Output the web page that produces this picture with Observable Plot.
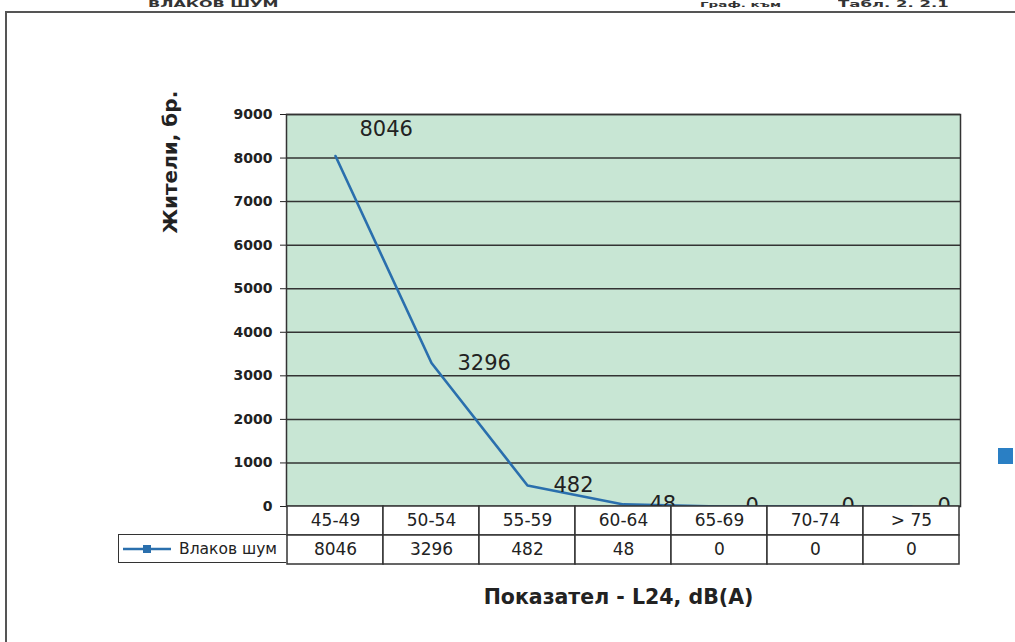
<!DOCTYPE html>
<html>
<head>
<meta charset="utf-8">
<script src="https://cdn.jsdelivr.net/npm/d3@7"></script>
<script src="https://cdn.jsdelivr.net/npm/@observablehq/plot@0.6"></script>
<style>
  html, body { margin: 0; padding: 0; background: #fff; }
  body { width: 1015px; height: 642px; position: relative; overflow: hidden; font-family: "DejaVu Sans", sans-serif; color: #222; }
  .abs { position: absolute; }
  #main { left: 0; top: 0; }
  #table { left: 0; top: 505px; }
  .hdr { font-weight: bold; font-size: 16px; line-height: 16px; top: 0px; color: #333; white-space: nowrap; transform: scaleY(0.55); transform-origin: top left; }
  #hline { left: 5px; top: 11px; width: 1010px; height: 2px; background: #555; }
  #vline { left: 5px; top: 12px; width: 2px; height: 630px; background: #555; }
  #legend { left: 118px; top: 534px; width: 168px; height: 29px; box-sizing: border-box; border: 1.5px solid #333; border-right: none; background: #fff; display: flex; align-items: center; font-size: 15.5px; white-space: nowrap; }
  #bluesq { left: 998px; top: 448px; width: 15px; height: 16px; background: #2a7fc4; }
</style>
</head>
<body>
<div id="main" class="abs"></div>
<div id="table" class="abs"></div>
<div id="hline" class="abs"></div>
<div id="vline" class="abs"></div>
<div class="abs hdr" style="left:148px;">ВЛАКОВ ШУМ</div>
<div class="abs hdr" style="left:700px;font-size:13.5px;">Граф. към</div>
<div class="abs hdr" style="left:838px;font-size:16.5px;">Табл. 2. 2.1</div>
<div id="legend" class="abs"></div>
<div id="bluesq" class="abs"></div>
<script>
// ---- data ----
const categories = ["45-49", "50-54", "55-59", "60-64", "65-69", "70-74", "> 75"];
const residents = [8046, 3296, 482, 48, 0, 0, 0];
const yTicks = [0, 1000, 2000, 3000, 4000, 5000, 6000, 7000, 8000, 9000];
const seriesName = "Влаков шум";
const yTitle = "Жители, бр.";
const xTitle = "Показател - L24, dB(A)";

const data = categories.map((c, i) => ({cat: c, val: residents[i]}));
const lineColor = "#2a6fad";
const gridColor = "#333";
const font = "DejaVu Sans";

const main = Plot.plot({
  width: 1015,
  height: 642,
  marginLeft: 286,
  marginRight: 55,
  marginTop: 114,
  marginBottom: 136,
  style: {fontFamily: font, fontSize: "14px", fontWeight: "bold", color: "#222", background: "transparent"},
  x: {type: "band", domain: categories, padding: 0, axis: null},
  y: {domain: [0, 9000], ticks: yTicks, tickSize: 6, tickPadding: 8, label: null, tickFormat: d => String(d)},
  marks: [
    Plot.frame({fill: "#c8e6d4", stroke: null}),
    Plot.ruleY(yTicks, {stroke: gridColor, strokeWidth: 1.5}),
    Plot.frame({stroke: gridColor, strokeWidth: 1.5}),
    Plot.line(data, {x: "cat", y: "val", stroke: lineColor, strokeWidth: 2.6}),
    Plot.text(data.slice(0, 1), {x: "cat", y: "val", text: d => String(d.val), textAnchor: "start", dx: 24, dy: -27, fontSize: 21, fontWeight: "normal", fill: "#222"}),
    Plot.text(data.slice(1), {x: "cat", y: "val", text: d => String(d.val), textAnchor: "start", dx: 26, dy: 0, fontSize: 21, fontWeight: "normal", fill: "#222"}),
    Plot.text([yTitle], {frameAnchor: "top-left", text: d => d, rotate: -90, textAnchor: "start", dx: -124, dy: 119, fontSize: 20, fontWeight: "bold", fill: "#222"}),
    Plot.text([xTitle], {frameAnchor: "bottom", text: d => d, dx: -5, dy: 97, fontSize: 20.5, fontWeight: "bold", fill: "#222"})
  ]
});
document.getElementById("main").appendChild(main);

// ---- data table below the chart ----
const tableRows = [];
categories.forEach((c, i) => {
  tableRows.push({cat: c, row: "cat", text: c});
  tableRows.push({cat: c, row: "val", text: String(residents[i])});
});
const table = Plot.plot({
  width: 1015,
  height: 60,
  marginLeft: 286,
  marginRight: 55,
  marginTop: 1,
  marginBottom: 1,
  style: {fontFamily: font, background: "transparent"},
  x: {type: "band", domain: categories, padding: 0, axis: null},
  y: {type: "band", domain: ["cat", "val"], padding: 0, axis: null},
  marks: [
    Plot.cell(tableRows, {x: "cat", y: "row", fill: "#fff", stroke: gridColor, strokeWidth: 1.5}),
    Plot.text(tableRows, {x: "cat", y: "row", text: "text", fontSize: 17, fill: "#222"})
  ]
});
document.getElementById("table").appendChild(table);

// ---- legend key in table ----
const leg = document.getElementById("legend");
leg.innerHTML = `<svg width="50" height="14" style="margin-left:4px;margin-right:6px"><line x1="0" y1="7" x2="48" y2="7" stroke="${lineColor}" stroke-width="2.5"/><rect x="20" y="3" width="8" height="8" fill="${lineColor}"/></svg><span>${seriesName}</span>`;
</script>
</body>
</html>
